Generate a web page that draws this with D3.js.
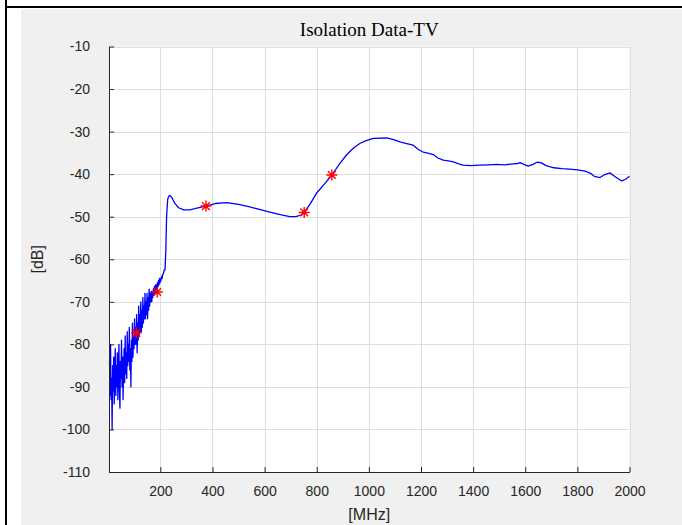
<!DOCTYPE html>
<html>
<head>
<meta charset="utf-8">
<script src="https://cdn.jsdelivr.net/npm/d3@7"></script>
<style>
  body { margin: 0; background: #ffffff; }
  svg { display: block; }
</style>
</head>
<body>
<script>
// measured isolation, noisy low band (MHz / dB)
const noisyFreq = [5, 7, 9, 11, 13, 15, 17, 19, 21, 23,
                   25, 27, 29, 31, 33, 35, 37, 39, 41, 43,
                   45, 47, 49, 51, 53, 55, 57, 59, 61, 63,
                   65, 67, 69, 71, 73, 75, 77, 79, 81, 83,
                   85, 87, 89, 91, 93, 95, 97, 99, 101, 103,
                   105, 107, 109, 111, 113, 115, 117, 119, 121, 123,
                   125, 127, 129, 131, 133, 135, 137, 139, 141, 143,
                   145, 147, 149, 151, 153, 155, 157, 159, 161, 163,
                   165, 167, 169, 171, 173, 175, 177, 179, 181, 183,
                   185, 187, 189, 191, 193, 195, 197, 199, 201, 203,
                   205, 207, 209, 211, 213, 215];
const noisyDb = [-84, -92, -80, -93, -88, -100, -85, -91, -83, -94,
                 -87, -81, -92, -85, -90, -82, -93, -86, -80, -91,
                 -95, -84, -88, -79, -90, -83, -93, -85, -81, -89,
                 -78, -87, -82, -88, -77, -85, -80, -84, -76, -86,
                 -81, -90, -79, -84, -75, -83, -78, -81, -74, -80,
                 -76, -80, -73, -82, -75, -79, -71, -78, -73, -77,
                 -70, -77, -72, -76, -69, -75, -71, -74, -68, -74,
                 -70, -73, -68, -74, -69, -72, -67, -71, -68, -70,
                 -67.5, -70, -68, -69, -67, -68.5, -66.5, -68, -66, -67.5,
                 -66, -67, -65.5, -66.5, -65, -66, -64.5, -65.5, -64.5, -65,
                 -64, -64.5, -63.5, -63.5, -63, -62.5];

// smooth part above 215 MHz
const smoothFreq = [218, 221, 224, 228, 232, 237, 245, 255, 270, 290, 313, 340, 375, 410, 454, 500, 543, 580, 620, 660,
                    697, 720, 740, 752, 775, 799, 830, 858, 885, 914, 940, 965, 990, 1017, 1068, 1095, 1119, 1145, 1170, 1190,
                    1208, 1230, 1247, 1265, 1285, 1305, 1324, 1345, 1362, 1390, 1426, 1460, 1490, 1520, 1554, 1570, 1580, 1595, 1611, 1630,
                    1645, 1660, 1680, 1710, 1740, 1770, 1800, 1830, 1850, 1865, 1887, 1905, 1925, 1945, 1970, 1985, 2000];
const smoothDb = [-62.5, -58, -50, -46, -45.2, -45, -45.6, -46.8, -47.9, -48.4, -48.4, -48, -47.5, -46.9, -46.7, -47.1, -47.7, -48.3, -48.9, -49.5,
                  -50, -50, -49.6, -49, -47, -44.5, -42.3, -40.2, -37.8, -35.5, -33.9, -32.8, -32.1, -31.6, -31.5, -31.9, -32.4, -32.8, -33.2, -34.2,
                  -34.8, -35.1, -35.4, -36.2, -36.7, -36.9, -37.1, -37.6, -37.9, -38, -37.9, -37.8, -37.7, -37.8, -37.6, -37.5, -37.3, -37.7, -38.1, -37.7,
                  -37.2, -37.3, -38, -38.5, -38.7, -38.8, -39, -39.3, -39.8, -40.5, -40.8, -40.1, -39.7, -40.6, -41.6, -41.2, -40.5];

// red asterisk markers
const markerFreq = [108, 188, 375, 752, 858];
const markerDb = [-77.3, -67.7, -47.5, -49, -40.2];

const xTicks = [200, 400, 600, 800, 1000, 1200, 1400, 1600, 1800, 2000];
const yTicks = [-110, -100, -90, -80, -70, -60, -50, -40, -30, -20, -10];

const WIDTH = 682;
const HEIGHT = 525;
const PLOT = {left: 109, right: 629.5, top: 46.5, bottom: 472};
const AXIS_COLOR = '#262626';
const GRID_COLOR = '#dedede';
const SANS = '"Liberation Sans", Arial, sans-serif';

const svg = d3.select('body')
  .append('svg')
  .attr('width', WIDTH)
  .attr('height', HEIGHT);

// page frame (table border lines + figure background)
svg.append('rect')
  .attr('x', 21).attr('y', 9)
  .attr('width', WIDTH - 21).attr('height', HEIGHT - 9)
  .attr('fill', '#f0f0f0');
svg.append('line')
  .attr('x1', 6).attr('x2', 6).attr('y1', 0).attr('y2', HEIGHT)
  .attr('stroke', '#000').attr('stroke-width', 2);
svg.append('line')
  .attr('x1', 6).attr('x2', WIDTH).attr('y1', 7).attr('y2', 7)
  .attr('stroke', '#000').attr('stroke-width', 2);

const xScale = d3.scaleLinear()
  .domain([3, 2000])
  .range([PLOT.left, PLOT.right]);
const yScale = d3.scaleLinear()
  .domain([-110, -10])
  .range([PLOT.bottom, PLOT.top]);

// white plot area
svg.append('rect')
  .attr('x', PLOT.left).attr('y', PLOT.top)
  .attr('width', PLOT.right - PLOT.left).attr('height', PLOT.bottom - PLOT.top)
  .attr('fill', '#ffffff');

// grid
const grid = svg.append('g').attr('stroke', GRID_COLOR).attr('stroke-width', 1);
grid.selectAll('.vgrid')
  .data(xTicks)
  .enter()
  .append('line')
  .attr('x1', d => Math.round(xScale(d)) + 0.5)
  .attr('x2', d => Math.round(xScale(d)) + 0.5)
  .attr('y1', PLOT.top)
  .attr('y2', PLOT.bottom);
grid.selectAll('.hgrid')
  .data(yTicks)
  .enter()
  .append('line')
  .attr('x1', PLOT.left)
  .attr('x2', PLOT.right)
  .attr('y1', d => Math.round(yScale(d)) + 0.5)
  .attr('y2', d => Math.round(yScale(d)) + 0.5);

// the trace
const freq = noisyFreq.concat(smoothFreq);
const db = noisyDb.concat(smoothDb);
const line = d3.line()
  .x((d, i) => xScale(freq[i]))
  .y(d => yScale(d));

svg.append('path')
  .datum(db)
  .attr('d', line)
  .attr('fill', 'none')
  .attr('stroke', '#0000ff')
  .attr('stroke-width', 1.3)
  .attr('stroke-linejoin', 'round');

// asterisk markers
const R = 5.5;
const star = 'M' + (-R) + ',0L' + R + ',0M0,' + (-R) + 'L0,' + R +
             'M' + (-R * 0.7) + ',' + (-R * 0.7) + 'L' + (R * 0.7) + ',' + (R * 0.7) +
             'M' + (-R * 0.7) + ',' + (R * 0.7) + 'L' + (R * 0.7) + ',' + (-R * 0.7);
svg.selectAll('.marker')
  .data(markerDb)
  .enter()
  .append('path')
  .attr('class', 'marker')
  .attr('transform', (d, i) => 'translate(' + xScale(markerFreq[i]) + ',' + yScale(d) + ')')
  .attr('d', star)
  .attr('fill', 'none')
  .attr('stroke', '#ff0000')
  .attr('stroke-width', 1.4);

// axes, ticks pointing inward like matlab, plain hyphen minus
const plain = d => String(d);
const xAxis = d3.axisBottom(xScale)
  .tickValues(xTicks)
  .tickFormat(plain)
  .tickSizeInner(-5)
  .tickSizeOuter(0)
  .tickPadding(14);
const yAxis = d3.axisLeft(yScale)
  .tickValues(yTicks)
  .tickFormat(plain)
  .tickSizeInner(-5)
  .tickSizeOuter(0)
  .tickPadding(19);

const gx = svg.append('g')
  .attr('transform', 'translate(0,' + PLOT.bottom + ')')
  .call(xAxis);
const gy = svg.append('g')
  .attr('transform', 'translate(' + PLOT.left + ',0)')
  .call(yAxis);

[gx, gy].forEach(g => {
  g.select('.domain').attr('stroke', AXIS_COLOR);
  g.selectAll('.tick line').attr('stroke', AXIS_COLOR);
  g.selectAll('.tick text')
    .attr('fill', AXIS_COLOR)
    .style('font-family', SANS)
    .style('font-size', '14px');
});

// title and axis labels
svg.append('text')
  .attr('x', (PLOT.left + PLOT.right) / 2)
  .attr('y', 36)
  .attr('text-anchor', 'middle')
  .style('font-family', '"Liberation Serif", "Times New Roman", serif')
  .style('font-size', '19px')
  .attr('fill', '#000')
  .text('Isolation Data-TV');

svg.append('text')
  .attr('x', (PLOT.left + PLOT.right) / 2)
  .attr('y', 520)
  .attr('text-anchor', 'middle')
  .style('font-family', SANS)
  .style('font-size', '16px')
  .attr('fill', AXIS_COLOR)
  .text('[MHz]');

svg.append('text')
  .attr('transform', 'translate(43,' + ((PLOT.top + PLOT.bottom) / 2) + ') rotate(-90)')
  .attr('text-anchor', 'middle')
  .style('font-family', SANS)
  .style('font-size', '16px')
  .attr('fill', AXIS_COLOR)
  .text('[dB]');
</script>
</body>
</html>
